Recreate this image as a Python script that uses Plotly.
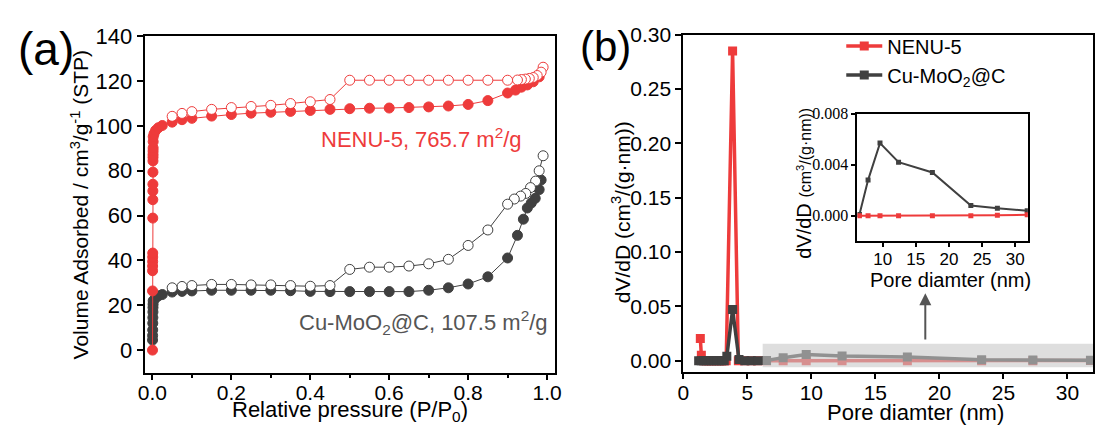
import plotly.graph_objects as go

RED = "#EE3B3B"
GRAY = "#404040"
FONT = "Arial, Liberation Sans, sans-serif"
SERIF = "Times New Roman, Liberation Serif, serif"

# ---- (a) N2 adsorption/desorption isotherms ----
p_ads_nenu = [0.0002, 0.0003, 0.0004, 0.0005, 0.0006, 0.0007, 0.0008, 0.0009, 0.0010, 0.0011,
              0.0012, 0.0013, 0.0014, 0.0015, 0.0016, 0.0017, 0.0018, 0.0019, 0.0020,
              0.004, 0.008, 0.015, 0.025, 0.05, 0.075, 0.1, 0.15, 0.2, 0.25, 0.3, 0.35,
              0.4, 0.45, 0.5, 0.55, 0.6, 0.65, 0.7, 0.75, 0.8, 0.85, 0.9, 0.92, 0.935,
              0.95, 0.965, 0.98]
v_ads_nenu = [0.0, 26.4, 35.4, 37.5, 39.5, 41.5, 43.3, 58.9, 67.1, 71.0,
              74.0, 79.4, 84.4, 86.0, 87.3, 88.8, 90.2, 93.0, 95.2,
              96.5, 98.0, 99.2, 100.2, 101.7, 102.8, 103.4, 104.4, 105.1, 105.7, 106.1, 106.5,
              106.9, 107.4, 107.7, 107.9, 108.0, 108.2, 108.5, 108.9, 109.6, 111.3, 114.7, 116.0, 117.3,
              118.3, 119.7, 121.9]
p_des_nenu = [0.99, 0.985, 0.975, 0.965, 0.955, 0.945, 0.935, 0.925, 0.9, 0.85, 0.8, 0.75, 0.7,
              0.65, 0.6, 0.55, 0.5, 0.45, 0.4, 0.35, 0.3, 0.25, 0.2, 0.15, 0.1, 0.075, 0.05]
v_des_nenu = [126.2, 124.0, 122.5, 121.6, 121.2, 120.9, 120.7, 120.5, 120.4, 120.4, 120.4, 120.4, 120.4,
              120.4, 120.4, 120.4, 120.4, 111.8, 110.8, 110.0, 109.2, 108.7, 108.2, 107.4, 106.4, 105.6, 104.3]

p_ads_cu = [0.0003, 0.0005, 0.0007, 0.0009, 0.0011, 0.0013, 0.0015, 0.0017, 0.0019,
            0.008, 0.015, 0.025, 0.05, 0.075, 0.1, 0.15, 0.2, 0.25, 0.3, 0.35, 0.4, 0.45,
            0.5, 0.55, 0.6, 0.65, 0.7, 0.75, 0.8, 0.85, 0.9, 0.925, 0.94, 0.95, 0.96,
            0.97, 0.98, 0.985]
v_ads_cu = [4.5, 6.5, 9.0, 12.0, 14.5, 17.0, 19.0, 20.5, 22.0,
            23.2, 24.2, 24.8, 25.9, 26.2, 26.4, 26.7, 26.7, 26.7, 26.7, 26.5, 26.2, 26.1,
            26.1, 26.1, 26.1, 26.1, 26.7, 27.8, 29.5, 32.7, 41.1, 51.2, 58.4, 63.4, 65.6,
            67.7, 71.6, 75.9]
p_des_cu = [0.99, 0.98, 0.971, 0.958, 0.946, 0.933, 0.917, 0.9, 0.85, 0.8, 0.75, 0.7, 0.65,
            0.6, 0.55, 0.5, 0.45, 0.4, 0.35, 0.3, 0.25, 0.2, 0.15, 0.1, 0.075, 0.05]
v_des_cu = [86.7, 80.0, 75.4, 72.5, 69.9, 68.7, 67.4, 65.1, 53.6, 46.7, 40.5, 38.5, 37.5,
            37.0, 37.0, 36.0, 28.8, 28.5, 28.8, 29.1, 29.1, 29.3, 29.3, 28.8, 28.4, 27.8]

# ---- (b) BJH pore size distribution ----
d_nenu = [1.33, 1.41, 1.6, 1.8, 2.0, 2.2, 2.4, 2.6, 2.8, 3.0, 3.2, 3.35, 3.85, 4.3,
          4.8, 5.3, 5.8, 6.5, 7.8, 9.6, 12.4, 17.5, 23.3, 27.3, 31.8]
dv_nenu = [0.0205, 0.005, 0.0, 0.0, 0.0, 0.0, 0.0, 0.0, 0.0, 0.0, 0.0, 0.0, 0.285, 0.0,
           0.0, 0.0, 0.0, 0.0, 0.0, 0.0, 0.0, 0.0, 0.0, 0.00005, 0.00008]
d_cu = [1.2, 1.4, 1.6, 1.8, 2.0, 2.2, 2.4, 2.6, 2.8, 3.0, 3.2, 3.4, 3.85, 4.35,
        4.8, 5.3, 5.8, 6.5, 7.8, 9.6, 12.4, 17.5, 23.3, 27.3, 31.8]
dv_cu = [0.0, 0.0, 0.0, 0.0, 0.0, 0.0, 0.0, 0.0, 0.0, 0.0, 0.0, 0.004, 0.047, 0.001,
         0.0, 0.0, 0.0, 0.0001, 0.0028, 0.0057, 0.0042, 0.0034, 0.0008, 0.0006, 0.0004]

# inset: enlarged range of the distribution
d_in = [6.5, 7.8, 9.6, 12.4, 17.5, 23.3, 27.3, 31.8]
dv_in_nenu = [0.0, 0.0, 0.0, 0.0, 0.0, 0.0, 0.00005, 0.00008]
dv_in_cu = [0.0001, 0.0028, 0.0057, 0.0042, 0.0034, 0.0008, 0.0006, 0.0004]

W, H = 1102, 425
def fx(px):
    return px / W
def fy(py):
    return 1 - py / H

fig = go.Figure()

# isotherms: Cu-MoO2@C below NENU-5, adsorption below desorption
for p, v, col, filled in [(p_ads_cu, v_ads_cu, GRAY, True), (p_des_cu, v_des_cu, GRAY, False),
                          (p_ads_nenu, v_ads_nenu, RED, True), (p_des_nenu, v_des_nenu, RED, False)]:
    fig.add_trace(go.Scatter(
        x=p, y=v, mode="lines+markers", showlegend=False,
        line=dict(color=col, width=1),
        marker=dict(symbol="circle", size=10, color=col if filled else "white",
                    line=dict(color=col, width=1)),
        xaxis="x", yaxis="y"))

# pore size distribution
fig.add_trace(go.Scatter(
    x=d_nenu, y=dv_nenu, mode="lines+markers", name="NENU-5", legendrank=1,
    line=dict(color=RED, width=3.5), marker=dict(symbol="square", size=9, color=RED),
    xaxis="x2", yaxis="y2"))
fig.add_trace(go.Scatter(
    x=d_cu, y=dv_cu, mode="lines+markers", name="Cu-MoO<sub>2</sub>@C", legendrank=2,
    line=dict(color=GRAY, width=3.5), marker=dict(symbol="square", size=9, color=GRAY),
    xaxis="x2", yaxis="y2"))

fig.add_trace(go.Scatter(
    x=d_in, y=dv_in_cu, mode="lines+markers", showlegend=False,
    line=dict(color=GRAY, width=2), marker=dict(symbol="square", size=5, color=GRAY),
    xaxis="x3", yaxis="y3"))
fig.add_trace(go.Scatter(
    x=d_in, y=dv_in_nenu, mode="lines+markers", showlegend=False,
    line=dict(color=RED, width=2), marker=dict(symbol="square", size=5, color=RED),
    xaxis="x3", yaxis="y3"))

ax_common = dict(showline=True, linewidth=2, linecolor="black", mirror=True,
                 ticks="outside", ticklen=6, tickwidth=2, tickcolor="black",
                 showgrid=False, zeroline=False,
                 tickfont=dict(family=FONT, size=21, color="black"))


def label(text, x, y, size, angle=0, color="black", xanchor="center"):
    return dict(text=text, x=fx(x), y=fy(y), xref="paper", yref="paper", xanchor=xanchor,
                yanchor="middle", showarrow=False, textangle=angle,
                font=dict(family=FONT, size=size, color=color))


fig.update_layout(
    width=W, height=H, margin=dict(l=0, r=0, t=0, b=0),
    paper_bgcolor="white", plot_bgcolor="white",
    font=dict(family=FONT, color="black"),
    xaxis=dict(ax_common, domain=[fx(139.3), fx(555)], range=[-0.02, 1.02], ticklen=5,
               tickvals=[0, 0.2, 0.4, 0.6, 0.8, 1.0], ticktext=["0.0", "0.2", "0.4", "0.6", "0.8", "1.0"],
               minor=dict(ticks="outside", ticklen=3, tickwidth=2, tickcolor="black",
                          tickvals=[0.1, 0.3, 0.5, 0.7, 0.9]),
               ticklabelstandoff=-5, anchor="y"),
    yaxis=dict(ax_common, domain=[fy(371), fy(25)], range=[-10, 140], dtick=20,
               tickfont=dict(family=FONT, size=22, color="black"), anchor="x"),
    xaxis2=dict(ax_common, domain=[fx(685), fx(1100)], range=[0, 32], dtick=5, ticklen=5,
                ticklabelstandoff=-4, anchor="y2"),
    yaxis2=dict(ax_common, domain=[fy(370), fy(23.3)], range=[-0.01, 0.30],
                tickvals=[0, 0.05, 0.10, 0.15, 0.20, 0.25, 0.30],
                ticktext=["0.00", "0.05", "0.10", "0.15", "0.20", "0.25", "0.30"],
                anchor="x2"),
    xaxis3=dict(ax_common, domain=[fx(861.4), fx(1034)], range=[6.2, 31.9],
                tickvals=[10, 15, 20, 25, 30], ticklen=4, ticklabelstandoff=-3,
                tickfont=dict(family=FONT, size=17, color="black"),
                anchor="y3"),
    yaxis3=dict(ax_common, domain=[fy(236), fy(104.7)], range=[-0.002, 0.008],
                tickvals=[0, 0.004, 0.008], ticktext=["0.000", "0.004", "0.008"], ticklen=4,
                tickfont=dict(family=SERIF, size=16, color="black"),
                anchor="x3"),
    legend=dict(x=fx(845), y=fy(15), xanchor="left", yanchor="top",
                bgcolor="rgba(0,0,0,0)", font=dict(family=FONT, size=20, color="black"),
                itemwidth=36, tracegroupgap=0),
    shapes=[dict(type="rect", xref="x2", yref="y2", x0=6.2, x1=32, y0=-0.006, y1=0.0155,
                 fillcolor="rgba(200,200,200,0.6)", line=dict(width=0), layer="above")],
    annotations=[
        label("(a)", 40, 38, 46),
        label("(b)", 606, 35, 42),
        # axis titles
        label("Relative pressure (P/P<sub>0</sub>)", 347, 411, 22),
        label("Volume Adsorbed / cm<sup>3</sup>/g<sup>-1</sup> (STP)", 74, 198, 21, angle=-90),
        label("Pore diamter (nm)", 920, 412, 22),
        label("dV/dD (cm<sup>3</sup>/(g·nm))", 622, 206, 21, angle=-90),
        label("Pore diamter (nm)", 956, 276, 20),
        label("dV/dD <span style='font-size:16px'>(cm<sup>3</sup>/(g·nm))</span>", 807, 176, 20, angle=-90),
        # surface areas
        label("NENU-5, 765.7 m<sup>2</sup>/g", 316, 130, 22, color=RED, xanchor="left"),
        label("Cu-MoO<sub>2</sub>@C, 107.5 m<sup>2</sup>/g", 294, 320, 22, color="#555555", xanchor="left"),
        dict(x=18.9, y=0.062, ax=18.9, ay=0.018, xref="x2", yref="y2", axref="x2", ayref="y2",
             text="", showarrow=True, arrowhead=2, arrowsize=1.2, arrowwidth=2, arrowcolor="#555555"),
    ],
)

fig.write_html("out.html")
